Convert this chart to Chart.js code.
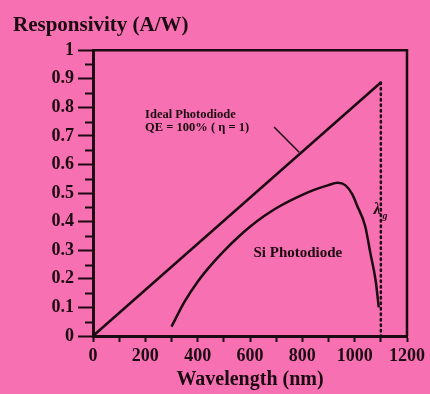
<!DOCTYPE html>
<html>
<head>
<meta charset="utf-8">
<script src="https://cdn.jsdelivr.net/npm/chart.js@4"></script>
<style>
  html, body { margin: 0; padding: 0; background: #f770b1; }
  #wrap { width: 430px; height: 394px; }
</style>
</head>
<body>
<div id="wrap"><canvas id="c" width="430" height="394"></canvas></div>
<script>
// ---- data ----
const idealX = [0, 1100];
const idealY = [0, 0.887];
const siX = [300, 350, 400, 450, 500, 550, 600, 650, 700, 750, 800, 850, 900, 935, 965, 990, 1010, 1040, 1060, 1080, 1092];
const siY = [0.033, 0.12, 0.19, 0.247, 0.297, 0.342, 0.382, 0.417, 0.447, 0.472, 0.494, 0.513, 0.528, 0.536, 0.527, 0.497, 0.455, 0.385, 0.29, 0.195, 0.10];
const cutoffX = [1100, 1100];
const cutoffY = [0.887, 0];
const leaderX = [692, 788];
const leaderY = [0.731, 0.643];
const xTickStep = 100, xLabelStep = 200;
const yTickStep = 0.1;
const titleText = 'Responsivity (A/W)';
const xTitle = 'Wavelength (nm)';
const labels = [
  { text: 'Ideal Photodiode', x: 199, y: 0.775, size: 12.5, align: 'left' },
  { text: 'QE = 100% ( \u03b7 = 1)', x: 199, y: 0.730, size: 12.5, align: 'left' },
  { text: 'Si Photodiode', x: 783, y: 0.29, size: 15, align: 'center' },
];

const ink = '#1c0a12';
const serif = '"Liberation Serif", "DejaVu Serif", serif';
const zip = (xs, ys) => xs.map((x, i) => ({ x, y: ys[i] }));

const decor = {
  id: 'decor',
  afterDatasetsDraw(chart) {
    const { ctx, chartArea: a, scales: { x, y } } = chart;
    ctx.save();
    // frame top & right
    ctx.strokeStyle = ink;
    ctx.lineWidth = 2.5;
    ctx.beginPath();
    ctx.moveTo(a.left, a.top);
    ctx.lineTo(a.right, a.top);
    ctx.lineTo(a.right, a.bottom);
    ctx.stroke();
    // minor y ticks
    ctx.lineWidth = 2;
    for (let v = 0.05; v < 1; v += 0.1) {
      const py = Math.round(y.getPixelForValue(v)) + 0.5;
      ctx.beginPath();
      ctx.moveTo(a.left - 8, py);
      ctx.lineTo(a.left, py);
      ctx.stroke();
    }
    // text annotations
    ctx.fillStyle = ink;
    ctx.textBaseline = 'middle';
    for (const l of labels) {
      ctx.font = 'bold ' + l.size + 'px ' + serif;
      ctx.textAlign = l.align;
      ctx.fillText(l.text, x.getPixelForValue(l.x), y.getPixelForValue(l.y));
    }
    // lambda_g
    const lx = x.getPixelForValue(1093), ly = y.getPixelForValue(0.44);
    ctx.font = 'italic bold 16px ' + serif;
    ctx.textAlign = 'center';
    ctx.fillText('\u03bb', lx - 2, ly);
    ctx.font = 'italic bold 10px ' + serif;
    ctx.fillText('g', lx + 6, ly + 6);
    ctx.restore();
  }
};

new Chart(document.getElementById('c'), {
  type: 'scatter',
  data: {
    datasets: [
      { data: zip(idealX, idealY), showLine: true, borderColor: ink, borderWidth: 2.5, pointRadius: 0 },
      { data: zip(siX, siY), showLine: true, borderColor: ink, borderWidth: 2.5, pointRadius: 0, cubicInterpolationMode: 'monotone' },
      { data: zip(cutoffX, cutoffY), showLine: true, borderColor: ink, borderWidth: 2.5, borderDash: [1.5, 4], borderCapStyle: 'round', pointRadius: 0 },
      { data: zip(leaderX, leaderY), showLine: true, borderColor: ink, borderWidth: 1.5, pointRadius: 0 },
    ]
  },
  options: {
    responsive: false,
    animation: false,
    layout: { padding: { top: 10, left: 13, right: 23, bottom: 0 } },
    plugins: {
      legend: { display: false },
      tooltip: { enabled: false },
      title: {
        display: true, text: titleText, align: 'start', color: ink,
        font: { family: serif, size: 21, weight: 'bold' },
        padding: { top: 3, bottom: 12 }
      }
    },
    scales: {
      x: {
        type: 'linear', min: 0, max: 1200,
        afterFit(s) { s.height = 58; },
        border: { display: true, color: ink, width: 3 },
        grid: { drawOnChartArea: false, tickLength: 6, tickWidth: 2, tickColor: ink },
        ticks: {
          stepSize: xTickStep, color: ink, padding: 4, maxRotation: 0, autoSkip: false,
          font: { family: serif, size: 18, weight: 'bold' },
          callback: v => (v % xLabelStep === 0 ? String(v) : '')
        },
        title: {
          display: true, text: xTitle, color: ink,
          font: { family: serif, size: 20, weight: 'bold' },
          padding: { top: 0, bottom: 2 }
        }
      },
      y: {
        type: 'linear', min: 0, max: 1,
        afterFit(s) { s.width = 80; },
        border: { display: true, color: ink, width: 3 },
        grid: { drawOnChartArea: false, tickLength: 15, tickWidth: 2, tickColor: ink },
        ticks: {
          stepSize: yTickStep, color: ink, padding: 4,
          font: { family: serif, size: 18, weight: 'bold' },
          callback: v => String(Math.round(v * 10) / 10)
        }
      }
    }
  },
  plugins: [decor]
});
</script>
</body>
</html>
